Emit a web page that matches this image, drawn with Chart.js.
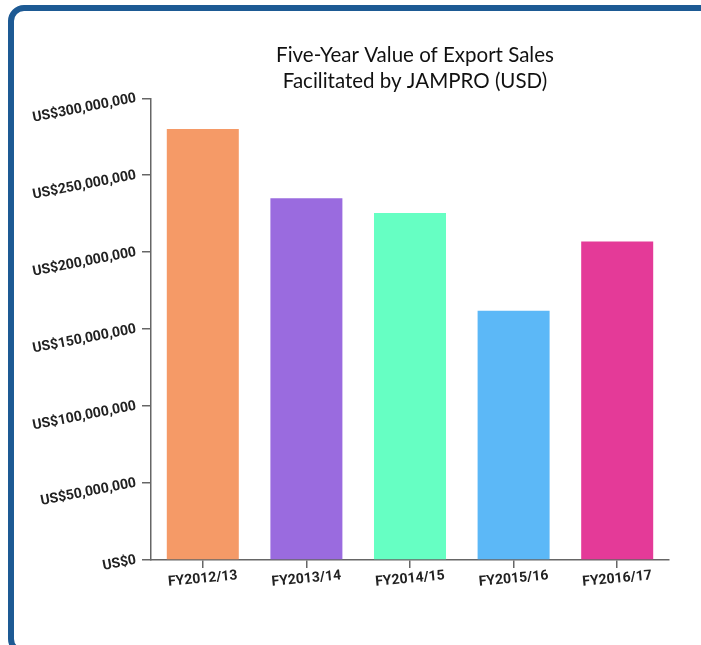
<!DOCTYPE html>
<html>
<head>
<meta charset="utf-8">
<script src="https://cdn.jsdelivr.net/npm/chart.js@4.4.0/dist/chart.umd.min.js"></script>
<style>
  html, body { margin: 0; padding: 0; background: #ffffff; width: 701px; height: 645px; overflow: hidden; }
  #frame { position: absolute; left: 8px; top: 5px; width: 740px; height: 650px; box-sizing: border-box;
           border: 6px solid #1d5a94; border-radius: 16px; background: #ffffff; }
  #wrap { position: absolute; left: 0; top: 0; width: 701px; height: 645px; }
</style>
</head>
<body>
<div id="frame"></div>
<div id="wrap"><canvas id="c" width="701" height="645"></canvas></div>
<script>
const titleLines = ['Five-Year Value of Export Sales', 'Facilitated by JAMPRO (USD)'];
const categories = ['FY2012/13', 'FY2013/14', 'FY2014/15', 'FY2015/16', 'FY2016/17'];
const exportSales = [280000000, 235000000, 225500000, 162000000, 207000000];
const barColors = ['#f59a67', '#9a6bdf', '#66ffc3', '#5cb8f7', '#e43a98'];
const yTickStep = 50000000;
const yMax = 300000000;

const xLabelPlugin = {
  id: 'xLabels',
  afterLayout(chart) {
    if (chart.titleBlock) { chart.titleBlock.left += 10; }
  },
  afterDraw(chart) {
    const xs = chart.scales.x;
    const ctx = chart.ctx;
    ctx.save();
    ctx.font = 'bold 14px Roboto, "Liberation Sans", sans-serif';
    ctx.fillStyle = '#222222';
    ctx.textAlign = 'center';
    ctx.textBaseline = 'middle';
    categories.forEach((lab, i) => {
      const x = xs.getPixelForValue(i);
      const y = xs.top + 19;
      ctx.save();
      ctx.translate(x, y);
      ctx.rotate(-5.5 * Math.PI / 180);
      ctx.fillText(lab, 0, 0);
      ctx.restore();
    });
    ctx.restore();
  }
};

new Chart(document.getElementById('c'), {
  type: 'bar',
  data: {
    labels: categories,
    datasets: [{
      data: exportSales,
      backgroundColor: barColors,
      borderWidth: 0,
      categoryPercentage: 1.0,
      barPercentage: 0.695
    }]
  },
  options: {
    responsive: false,
    animation: false,
    layout: { padding: { left: 20, right: 32, top: 43, bottom: 45 } },
    plugins: {
      legend: { display: false },
      tooltip: { enabled: false },
      title: {
        display: true,
        text: titleLines,
        fullSize: false,
        color: '#111111',
        font: { family: 'Lato, "Open Sans", sans-serif', size: 20.5, weight: 'normal', lineHeight: 1.25 },
        padding: { top: 0, bottom: 4 }
      }
    },
    scales: {
      x: {
        grid: { display: true, drawOnChartArea: false, offset: false, tickLength: 8, color: '#666666', lineWidth: 1.5 },
        border: { display: true, color: '#666666', width: 1.5 },
        ticks: { color: 'rgba(0,0,0,0)', maxRotation: 0, minRotation: 0, font: { size: 14, weight: 'bold' } },
        afterFit(scale) { scale.height = 40; }
      },
      y: {
        min: 0,
        max: yMax,
        grid: { display: true, drawOnChartArea: false, tickLength: 9, color: '#666666', lineWidth: 1.5 },
        border: { display: true, color: '#666666', width: 1.5 },
        ticks: {
          stepSize: yTickStep,
          minRotation: 11,
          maxRotation: 11,
          padding: 6,
          color: '#222222',
          font: { family: 'Roboto, "Liberation Sans", sans-serif', size: 14, weight: 'bold' },
          callback: (v) => 'US$' + Number(v).toLocaleString('en-US')
        },
        afterFit(scale) { scale.width = 131; }
      }
    }
  },
  plugins: [xLabelPlugin]
});
</script>
</body>
</html>
